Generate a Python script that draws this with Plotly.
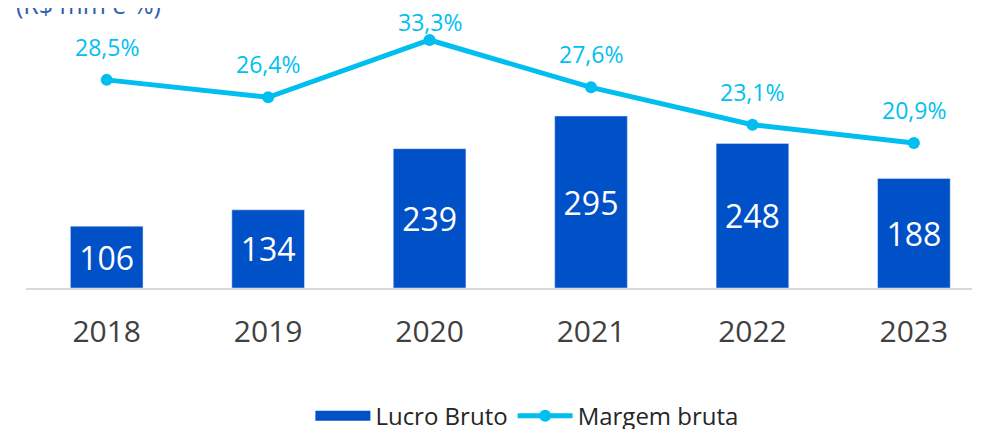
import plotly.graph_objects as go

anos = ["2018", "2019", "2020", "2021", "2022", "2023"]
lucro_bruto = [106, 134, 239, 295, 248, 188]
margem_bruta = [28.5, 26.4, 33.3, 27.6, 23.1, 20.9]

fonte = "Open Sans"
azul = "#0050c8"
ciano = "#00bff0"

fig = go.Figure()
fig.add_trace(go.Bar(
    x=anos, y=lucro_bruto, name="Lucro Bruto", showlegend=False,
    marker_color=azul,
    texttemplate="%{y}", textposition="inside", insidetextanchor="middle",
    textfont=dict(color="white", size=32, family=fonte),
))
# legend swatch (wide rectangle like the original)
fig.add_trace(go.Scatter(
    x=[None], y=[None], name="Lucro Bruto", mode="lines",
    line=dict(color=azul, width=16),
))
fig.add_trace(go.Scatter(
    x=anos, y=margem_bruta, name="Margem bruta", yaxis="y2",
    mode="lines+markers",
    line=dict(color=ciano, width=5),
    marker=dict(size=12, color=ciano),
))

# rótulos da margem (x = índice da categoria); o maior fica mais perto do ponto
notas = []
for i, v in enumerate(margem_bruta):
    desloc = 18 if v == max(margem_bruta) else 33
    notas.append(dict(
        text=f"{v:.1f}%".replace(".", ","), x=i, y=v, xref="x", yref="y2",
        yshift=desloc, showarrow=False,
        font=dict(color="#00c0f0", size=23, family=fonte),
    ))

notas.append(dict(
    text="(R$ mm e %)", xref="paper", yref="paper", x=-0.013, y=1.022,
    xanchor="left", yanchor="middle", showarrow=False,
    font=dict(size=25, color="#2f5faf", family=fonte),
))

eixo_oculto = dict(showgrid=False, zeroline=False, showline=False,
                   showticklabels=False, ticks="")

fig.update_layout(
    width=979, height=421,
    margin=dict(l=18, r=15, t=2, b=141, autoexpand=False),
    plot_bgcolor="white", paper_bgcolor="white",
    bargap=0.55,
    font=dict(family=fonte),
    xaxis=dict(
        type="category",
        range=[-0.5, 5.36], showline=True, linecolor="#d9d9d9", linewidth=2,
        tickfont=dict(size=30, color="#404040"), ticklabelstandoff=16,
        showgrid=False, automargin=False,
    ),
    yaxis=dict(range=[0, 476.8], **eixo_oculto),
    yaxis2=dict(range=[3.45, 36.91], overlaying="y", **eixo_oculto),
    legend=dict(
        orientation="h", x=0.53, xanchor="center", y=-0.38, yanchor="top",
        font=dict(size=24, color="#262626"), itemwidth=55,
    ),
    showlegend=True,
    annotations=notas,
)

fig.write_html("out.html")
